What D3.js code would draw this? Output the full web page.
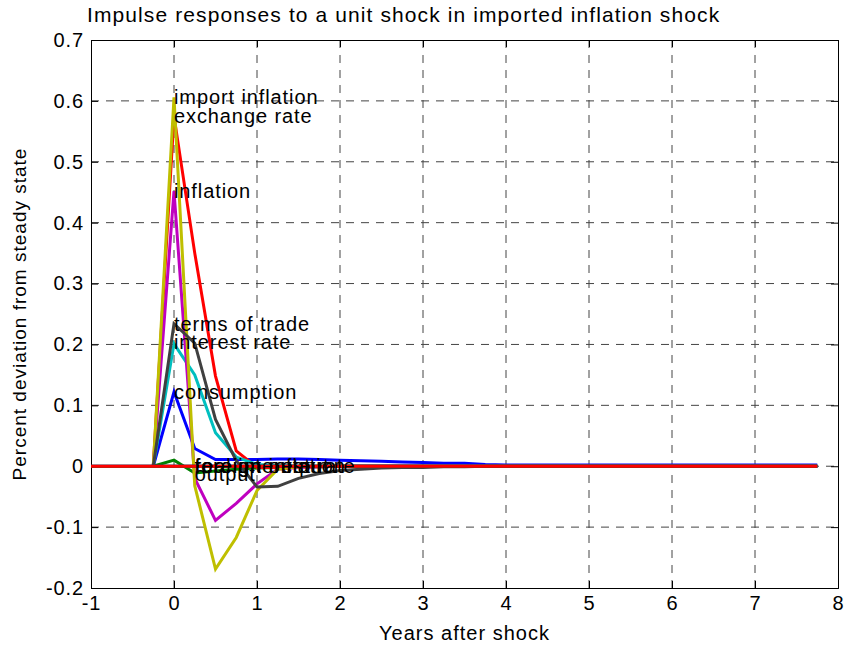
<!DOCTYPE html>
<html>
<head>
<meta charset="utf-8">
<script src="https://cdn.jsdelivr.net/npm/d3@7"></script>
<style>
html,body{margin:0;padding:0;background:#fff;}
svg text{font-family:"Liberation Sans",Arial,Helvetica,sans-serif;fill:#000;}
</style>
</head>
<body>
<svg id="chart" width="845" height="649"></svg>
<script>
// ---- data ----
const titleText = "Impulse responses to a unit shock in imported inflation shock";
const xLabelText = "Years after shock";
const yLabelText = "Percent deviation from steady state";
const xTicks = [-1, 0, 1, 2, 3, 4, 5, 6, 7, 8];
const yTicks = [-0.2, -0.1, 0, 0.1, 0.2, 0.3, 0.4, 0.5, 0.6, 0.7];
const years = [-0.25, 0, 0.25, 0.5, 0.75, 1, 1.25, 1.5, 1.75, 2, 2.25, 2.5, 2.75, 3, 3.25, 3.5,
  3.75, 4, 4.25, 4.5, 4.75, 5, 5.25, 5.5, 5.75, 6, 6.25, 6.5, 6.75, 7, 7.25, 7.5, 7.75];
const foreignYears = [-1, -0.75, -0.5, -0.25, 0, 0.25, 0.5, 0.75, 1, 1.25, 1.5, 1.75, 2, 2.25, 2.5, 2.75, 3,
  3.25, 3.5, 3.75, 4, 4.25, 4.5, 4.75, 5, 5.25, 5.5, 5.75, 6, 6.25, 6.5, 6.75, 7, 7.25, 7.5, 7.75];

const consumption = [0, 0.122, 0.029, 0.011, 0.011, 0.011, 0.012, 0.012, 0.011, 0.010, 0.009, 0.008, 0.007, 0.006, 0.005, 0.005,
  0.003, 0.002, 0.002, 0.002, 0.002, 0.002, 0.002, 0.002, 0.002, 0.002, 0.002, 0.002, 0.002, 0.002, 0.002, 0.002, 0.002];
const output = [0, 0.010, -0.011, -0.008, -0.005, -0.003, -0.002, -0.001, -0.001, 0, 0, 0, 0, 0, 0, 0,
  0, 0, 0, 0, 0, 0, 0, 0, 0, 0, 0, 0, 0, 0, 0, 0, 0];
const exchangeRate = [0, 0.575, 0.35, 0.148, 0.025, -0.002, -0.002, -0.001, -0.001, 0, 0, 0, 0, 0, 0, 0,
  0, 0, 0, 0, 0, 0, 0, 0, 0, 0, 0, 0, 0, 0, 0, 0, 0];
const interestRate = [0, 0.201, 0.15, 0.055, 0.015, 0.003, 0.001, 0, 0, 0, 0, 0, 0, 0, 0, 0,
  0, 0, 0, 0, 0, 0, 0, 0, 0, 0, 0, 0, 0, 0, 0, 0, 0];
const inflation = [0, 0.452, -0.02, -0.089, -0.061, -0.029, -0.005, -0.002, -0.001, 0, 0, 0, 0, 0, 0, 0,
  0, 0, 0, 0, 0, 0, 0, 0, 0, 0, 0, 0, 0, 0, 0, 0, 0];
const importInflation = [0, 0.606, -0.032, -0.169, -0.117, -0.04, -0.005, -0.001, 0, 0, 0, 0, 0, 0, 0, 0,
  0, 0, 0, 0, 0, 0, 0, 0, 0, 0, 0, 0, 0, 0, 0, 0, 0];
const termsOfTrade = [0, 0.234, 0.202, 0.077, 0.009, -0.034, -0.033, -0.020, -0.012, -0.007, -0.005, -0.003, -0.002, -0.002, -0.001, -0.001,
  0, 0, 0, 0, 0, 0, 0, 0, 0, 0, 0, 0, 0, 0, 0, 0, 0];
const foreignOutput = [0, 0, 0, 0, 0, 0, 0, 0, 0, 0, 0, 0, 0, 0, 0, 0, 0, 0, 0, 0, 0, 0, 0, 0, 0, 0, 0, 0, 0, 0, 0, 0, 0, 0, 0, 0];
const foreignInflation = [0, 0, 0, 0, 0, 0, 0, 0, 0, 0, 0, 0, 0, 0, 0, 0, 0, 0, 0, 0, 0, 0, 0, 0, 0, 0, 0, 0, 0, 0, 0, 0, 0, 0, 0, 0];
const realInterestRate = [0, 0, 0, 0, 0, 0, 0, 0, 0, 0, 0, 0, 0, 0, 0, 0, 0, 0, 0, 0, 0, 0, 0, 0, 0, 0, 0, 0, 0, 0, 0, 0, 0, 0, 0, 0];

const seriesNames = ["consumption", "output", "exchange rate", "interest rate", "inflation", "import inflation",
  "terms of trade", "foreign output", "foreign inflation", "real interest rate"];
const seriesValues = [consumption, output, exchangeRate, interestRate, inflation, importInflation, termsOfTrade,
  foreignOutput, foreignInflation, realInterestRate];
const seriesTimes = [years, years, years, years, years, years, years, foreignYears, foreignYears, foreignYears];
const seriesColors = ["#0000ff", "#008000", "#ff0000", "#00bfbf", "#bf00bf", "#bfbf00", "#404040",
  "#0000ff", "#008000", "#ff0000"];
// label anchors (year, value)
const labelYears = [0, 0.25, 0, 0, 0, 0, 0, 0.25, 0.25, 0.25];
const labelValues = [0.122, -0.012, 0.576, 0.204, 0.452, 0.606, 0.234, 0, 0, 0];

// ---- layout ----
const svg = d3.select("#chart");
const W = 845, H = 649;
const m = {left: 91, right: 7, top: 40, bottom: 61};
const x = d3.scaleLinear().domain([-1, 8]).range([m.left, W - m.right]);
const y = d3.scaleLinear().domain([-0.2, 0.7]).range([H - m.bottom, m.top]);
const fs = 20, ls = "0.9px";

// grid
const gridColor = "#444";
svg.append("g").selectAll("line").data(xTicks.slice(1, -1)).join("line")
  .attr("x1", d => x(d)).attr("x2", d => x(d)).attr("y1", y(0.7)).attr("y2", y(-0.2))
  .attr("stroke", gridColor).attr("stroke-width", 1).attr("stroke-dasharray", "8,7");
svg.append("g").selectAll("line").data(yTicks.slice(1, -1)).join("line")
  .attr("y1", d => y(d)).attr("y2", d => y(d)).attr("x1", x(-1)).attr("x2", x(8))
  .attr("stroke", gridColor).attr("stroke-width", 1).attr("stroke-dasharray", "8,7");

// axes with inward ticks
const tl = 7;
const fmtX = d => String(d);
const fmtY = d => (d === 0 ? "0" : d.toFixed(1));
const axB = svg.append("g").attr("transform", `translate(0,${y(-0.2)})`)
  .call(d3.axisBottom(x).tickValues(xTicks).tickSize(-tl).tickPadding(8).tickFormat(fmtX));
const axT = svg.append("g").attr("transform", `translate(0,${y(0.7)})`)
  .call(d3.axisTop(x).tickValues(xTicks).tickSize(-tl).tickFormat(""));
const axL = svg.append("g").attr("transform", `translate(${x(-1)},0)`)
  .call(d3.axisLeft(y).tickValues(yTicks).tickSize(-tl).tickPadding(7).tickFormat(fmtY));
const axR = svg.append("g").attr("transform", `translate(${x(8)},0)`)
  .call(d3.axisRight(y).tickValues(yTicks).tickSize(-tl).tickFormat(""));
[axB, axT, axL, axR].forEach(a => {
  a.select(".domain").attr("stroke", "#000").attr("stroke-width", 1);
  a.selectAll(".tick line").attr("stroke", "#000");
  a.selectAll("text").attr("font-size", fs).attr("letter-spacing", ls)
    .style("font-family", '"Liberation Sans",Arial,sans-serif').attr("fill", "#000");
});

// lines
const line = (ts) => d3.line().x((d, i) => x(ts[i])).y(d => y(d));
const g = svg.append("g");
seriesValues.forEach((vals, k) => {
  g.append("path").datum(vals)
    .attr("d", line(seriesTimes[k]))
    .attr("fill", "none").attr("stroke", seriesColors[k]).attr("stroke-width", 3)
    .attr("stroke-linejoin", "miter");
});

// labels
svg.append("g").selectAll("text").data(seriesNames).join("text")
  .attr("x", (d, i) => x(labelYears[i]))
  .attr("y", (d, i) => y(labelValues[i]))
  .attr("dy", "0.35em")
  .attr("font-size", fs).attr("letter-spacing", ls)
  .text(d => d);

// title and axis labels
svg.append("text").attr("x", 87).attr("y", 22).attr("font-size", 21).attr("letter-spacing", "1.1px").text(titleText);
svg.append("text").attr("x", x(3.5)).attr("y", 640).attr("text-anchor", "middle")
  .attr("font-size", fs).attr("letter-spacing", "1px").text(xLabelText);
svg.append("text").attr("transform", `translate(26,${y(0.25)}) rotate(-90)`).attr("text-anchor", "middle")
  .attr("font-size", 19).attr("letter-spacing", "1px").text(yLabelText);
</script>
</body>
</html>
